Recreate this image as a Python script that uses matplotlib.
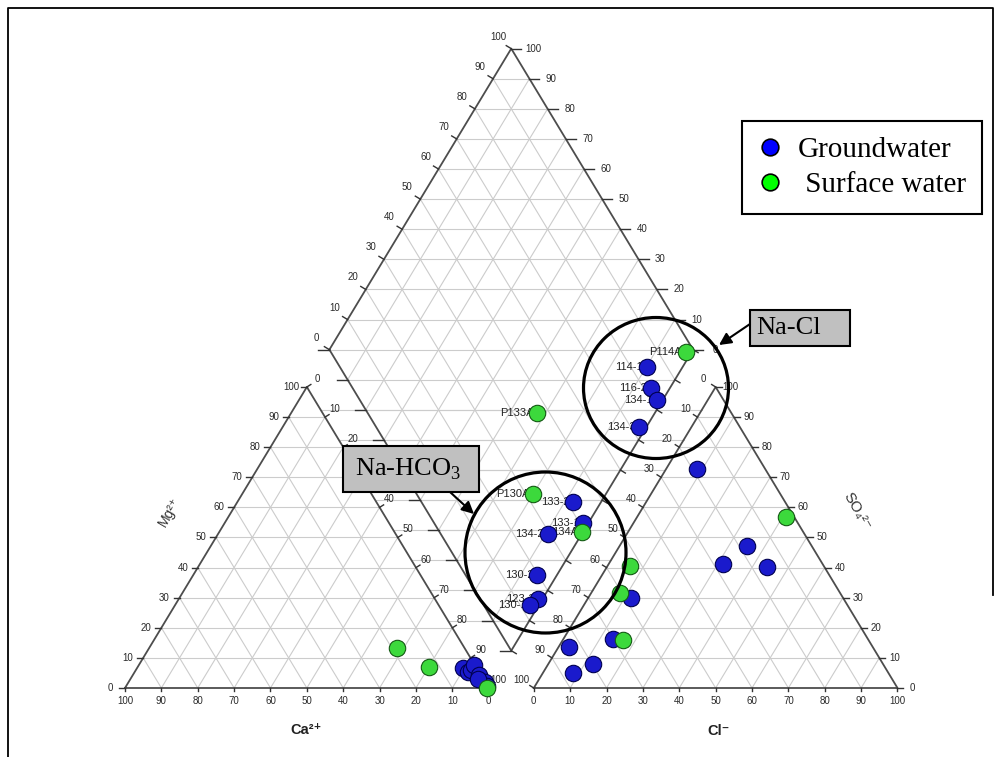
import numpy as np
import matplotlib.pyplot as plt
import matplotlib.transforms as mtransforms
from matplotlib.patches import Ellipse, Rectangle
from matplotlib.lines import Line2D

W, H = 1003, 757
SX, SY = 3.637, 3.476   # pixels per data unit (triangle side = 100)
X0, Y0 = 125, 688       # pixel position of the Ca = 100 corner
GAP = 12.4              # gap between the two triangles
TH = 86.6               # triangle height

# cation triangle (% meq)
gw_ca = [3.9, 3.1, 2.0, 0.3, 0.6, 0.1, 0.0, 1.5]
gw_mg = [6.6, 5.3, 6.0, 7.6, 4.3, 2.0, 0.7, 3.0]
sw_ca = [18.7, 12.8, 0.5]
sw_mg = [13.3, 7.0, 0.0]

# anion triangle (% meq)
gw_cl = [8.5, 35.0, 31.5, 44.1, 11.9, 13.5, 2.8, 12.2, 8.2]
gw_so4 = [72.8, 47.2, 41.2, 40.2, 29.9, 16.3, 13.6, 8.0, 5.0]
sw_cl = [40.9, 6.3, 7.8, 16.7]
sw_so4 = [56.8, 40.5, 31.6, 15.9]

# diamond: Na+K and Cl+SO4 (% meq)
gw_ids = ["114-1", "116-2", "134-1", "134-3", "133-2", "133-1", "134-2", "130-2", "123-2", "130-1"]
gw_nak = [90.0, 94.9, 98.3, 98.1, 92.4, 98.7, 90.8, 94.5, 98.8, 97.7]
gw_clso4 = [84.4, 82.2, 81.6, 72.4, 41.8, 41.0, 29.5, 19.8, 16.1, 12.8]
sw_ids = ["P114A", "P133A", "P130A", "134A"]
sw_nak = [98.3, 67.7, 80.0, 99.9]
sw_clso4 = [97.6, 46.7, 32.0, 39.2]

ticks = list(range(0, 101, 10))


def cat_xy(ca, mg):
    ca = np.asarray(ca, float)
    mg = np.asarray(mg, float)
    return 100 - ca - mg / 2, mg * TH / 100


def an_xy(cl, so4):
    cl = np.asarray(cl, float)
    so4 = np.asarray(so4, float)
    return 100 + GAP + cl + so4 / 2, so4 * TH / 100


BX, BY = 100 + GAP / 2, GAP * TH / 100


def dia_xy(nak, clso4):
    a = np.asarray(clso4, float)
    c = 100 - np.asarray(nak, float)
    return BX + (a - c) / 2, BY + (a + c) * TH / 100


plt.rcParams['font.family'] = ['Liberation Sans', 'DejaVu Sans']
fig = plt.figure(figsize=(W / 100, H / 100), dpi=100)
ax = fig.add_axes([0, 0, 1, 1])
ax.set_xlim(-X0 / SX, (W - X0) / SX)
ax.set_ylim(-(H - Y0) / SY, Y0 / SY)
ax.axis('off')
# pixel coordinates (origin top-left) for annotations
pix = mtransforms.Affine2D().scale(1 / W, -1 / H).translate(0, 1) + fig.transFigure

# grid
grid = dict(color='#cccccc', lw=0.8, zorder=1)
edge = dict(color='#4d4d4d', lw=1.3, zorder=3)
for v in range(10, 100, 10):
    ax.plot(*cat_xy([100 - v, 0], [v, v]), **grid)
    ax.plot(*cat_xy([v, v], [0, 100 - v]), **grid)
    ax.plot(*cat_xy([100 - v, 0], [0, 100 - v]), **grid)
    ax.plot(*an_xy([0, 100 - v], [v, v]), **grid)
    ax.plot(*an_xy([v, v], [0, 100 - v]), **grid)
    ax.plot(*an_xy([100 - v, 0], [0, 100 - v]), **grid)
    ax.plot(*dia_xy([0, 100], [v, v]), **grid)
    ax.plot(*dia_xy([v, v], [0, 100]), **grid)
for k in range(10, 200, 10):
    a = np.array([max(0, k - 100), min(100, k)])
    ax.plot(*dia_xy(100 - (k - a), a), **grid)
    if k <= 80:
        m = GAP + k
        xl, yl = cat_xy(0, m)
        xr, yr = an_xy(0, m)
        ax.plot([xl, xr], [yl, yr], **grid)

# outlines
ax.plot(*cat_xy([100, 0, 0, 100], [0, 0, 100, 0]), **edge)
ax.plot(*an_xy([0, 100, 0, 0], [0, 0, 100, 0]), **edge)
ax.plot(*dia_xy([0, 100, 100, 0, 0], [0, 0, 100, 100, 0]), **edge)


def tick(p, dx, dy):
    x, y = p
    ax.plot([x, x + dx / SX], [y, y + dy / SY], color='#333333', lw=1.0, zorder=3)


def tlab(p, s, dx, dy):
    x, y = p
    ax.text(x + dx / SX, y + dy / SY, s, fontsize=7, color='#2a2a2a',
            ha='center', va='center', zorder=4)


for v in ticks:
    s = str(v)
    p = cat_xy(v, 0); tick(p, 0, -3); tlab(p, s, 0, -13)
    p = cat_xy(100 - v, v); tick(p, -6, 0); tlab(p, s, -15, 0)
    p = cat_xy(0, 100 - v); tick(p, 4, 2.5); tlab(p, s, 10, 8)
    p = an_xy(v, 0); tick(p, 0, -3); tlab(p, s, 0, -13)
    p = an_xy(100 - v, v); tick(p, 6, 0); tlab(p, s, 15, 0)
    p = an_xy(0, 100 - v); tick(p, -4, 2.5); tlab(p, s, -12, 8)
    p = dia_xy(0, v); tick(p, -5, 3); tlab(p, s, -13, 12)
    p = dia_xy(100 - v, 100); tick(p, 10, 0); tlab(p, s, 22, 0)
    tick(dia_xy(v, 0), -11, 0)
    tick(dia_xy(100, v), 5, -3)

# axis names
ax.text(170, 512, 'Mg²⁺', transform=pix, rotation=60, fontsize=10,
        ha='center', va='center', color='#333333')
ax.text(857, 511, 'SO₄²⁻', transform=pix, rotation=-60,
        fontsize=11, ha='center', va='center', color='#333333')
ax.text(306, 730, 'Ca²⁺', transform=pix, fontsize=10.5, fontweight='bold',
        ha='center', va='center', color='#222222')
ax.text(719, 731, 'Cl⁻', transform=pix, fontsize=10.5, fontweight='bold',
        ha='center', va='center', color='#222222')

# samples
GW = dict(s=140, c='#1a1acc', edgecolors='#000050', linewidths=0.8, zorder=6)
SW = dict(s=140, c='#3cd93c', edgecolors='#145a14', linewidths=0.8, zorder=6)
ax.scatter(*cat_xy(gw_ca, gw_mg), **GW)
ax.scatter(*cat_xy(sw_ca, sw_mg), **SW)
ax.scatter(*an_xy(gw_cl, gw_so4), **GW)
ax.scatter(*an_xy(sw_cl, sw_so4), **SW)
ax.scatter(*dia_xy(gw_nak, gw_clso4), **GW)
ax.scatter(*dia_xy(sw_nak, sw_clso4), **SW)
for ids, nak, clso4 in [(gw_ids, gw_nak, gw_clso4), (sw_ids, sw_nak, sw_clso4)]:
    xs, ys = dia_xy(nak, clso4)
    for name, x, y in zip(ids, xs, ys):
        ax.text(x - 4 / SX, y, name, fontsize=8, ha='right', va='center',
                color='#222222', zorder=5)

# legend
handles = [Line2D([], [], ls='', marker='o', ms=12, mfc='#0000ff', mec='k', mew=1.2),
           Line2D([], [], ls='', marker='o', ms=12, mfc='#00ff00', mec='k', mew=1.2)]
leg = fig.legend(handles, ['Groundwater', ' Surface water'], loc='upper left',
                 bbox_to_anchor=(742 / W, 1 - 121 / H), borderaxespad=0,
                 frameon=True, fancybox=False, framealpha=1, edgecolor='k',
                 prop=dict(family='Liberation Serif', size=21), borderpad=0.55,
                 handlelength=0.8, handletextpad=0.57, labelspacing=0.27)
leg.get_frame().set_linewidth(1.5)

# class circles and callouts
ax.add_patch(Ellipse((656, 388), 145, 141, transform=pix, fill=False, ec='k', lw=2.3, zorder=7))
ax.add_patch(Ellipse((545.5, 552.5), 161, 161, transform=pix, fill=False, ec='k', lw=2.3, zorder=7))
for (bx, by, bw, bh, txt, tx, tip, tail) in [
        (750, 310, 100, 36, 'Na-Cl', 756, (719, 345), (750, 324)),
        (343, 446, 136, 46, r'Na-HCO$_\mathregular{3}$', 355, (474, 514), (450, 492))]:
    ax.add_patch(Rectangle((bx, by), bw, bh, transform=pix, fc='#c0c0c0', ec='k', lw=1.5, zorder=8))
    ax.text(tx, by + bh / 2, txt, transform=pix, family='Liberation Serif', fontsize=19,
            ha='left', va='center', zorder=9)
    ax.annotate('', xy=tip, xytext=tail, xycoords=pix, textcoords=pix, zorder=8,
                arrowprops=dict(arrowstyle='-|>', lw=1.5, color='k', mutation_scale=18,
                                shrinkA=0, shrinkB=0))

# page frame
fig.add_artist(Line2D([8, 8, 993, 993], [757, 8, 8, 595], transform=pix, color='k', lw=1.3))

fig.savefig('out.png', dpi=100)
